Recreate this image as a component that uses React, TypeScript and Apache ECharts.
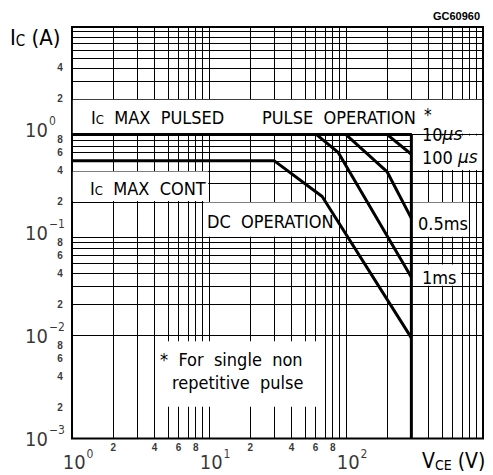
import React, { useEffect, useRef } from 'react';
import * as echarts from 'echarts';

const FONT = "'Liberation Sans Narrow','Arial Narrow','DejaVu Sans Condensed','Liberation Sans',sans-serif";
const SMALL_FONT = "'Liberation Sans',Arial,sans-serif";

// grid lines (thin)
const xGridValues = [2, 3, 4, 5, 6, 7, 8, 9, 10, 20, 30, 40, 50, 60, 70, 80, 90, 100, 200, 300, 400, 500, 600, 700, 800, 900];
const yGridValues = [9, 8, 7, 6, 5, 4, 3, 2, 0.9, 0.8, 0.7, 0.6, 0.5, 0.4, 0.3, 0.2, 0.09, 0.08, 0.07, 0.06, 0.05, 0.04, 0.03, 0.02, 0.009, 0.008, 0.007, 0.006, 0.005, 0.004, 0.003, 0.002];

// tick labels
const xMajorTicks = [1, 10, 100];
const xMajorExponents = ['0', '1', '2'];
const xMinorTicks = [2, 4, 6, 8, 20, 40, 60, 80];
const xMinorLabels = ['2', '4', '6', '8', '2', '4', '6', '8'];
const yMajorTicks = [1, 0.1, 0.01, 0.001];
const yMajorExponents = ['0', '\u22121', '\u22122', '\u22123'];
const yMinorTicks = [4, 2, 0.8, 0.6, 0.4, 0.2, 0.08, 0.06, 0.04, 0.02, 0.008, 0.006, 0.004, 0.002];
const yMinorLabels = ['4', '2', '8', '6', '4', '2', '8', '6', '4', '2', '8', '6', '4', '2'];

// safe operating area limits [VCE (V), IC (A)]
const pulse10usLimit = [[1, 0.9], [300, 0.9], [300, 0.001]];
const pulse100us = [[200, 0.9], [300, 0.58]];
const pulse05ms = [[100, 0.9], [200, 0.39], [300, 0.138]];
const pulse1ms = [[61, 0.9], [88, 0.6], [300, 0.037]];
const dcOperation = [[1, 0.5], [30, 0.5], [67, 0.225], [300, 0.0095]];

// white label areas [xFrom, xTo, yFrom, yTo]
const labelAreas = [
  [1, 1000, 0.9, 2],
  [300, 1000, 0.4, 0.9],
  [300, 800, 0.09, 0.2],
  [300, 700, 0.03, 0.05],
  [1, 10, 0.2, 0.4],
  [9, 90, 0.09, 0.2],
  [4, 70, 0.002, 0.009],
];

const FX = 1.0135;
const FY = 1.018;

export default function App() {
  const ref = useRef<HTMLDivElement>(null);
  useEffect(() => {
    if (!ref.current) return;
    const chart = echarts.init(ref.current, undefined, { renderer: 'svg' });
    const curve = (data: number[][]) => ({
      type: 'line',
      data,
      symbol: 'none',
      silent: true,
      z: 5,
      lineStyle: { color: '#000', width: 3 },
    });
    const labelBase = {
      show: true,
      position: 'inside',
      color: '#000',
      textBorderWidth: 0,
    };
    const pointBase = {
      type: 'scatter',
      symbol: 'circle',
      symbolSize: 1,
      itemStyle: { color: 'rgba(0,0,0,0)' },
      clip: false,
      silent: true,
      z: 10,
    };
    const txt = (x: number, y: number, text: string, fontSize: number, extra: any = {}) => ({
      type: 'text',
      x,
      y,
      z: 100,
      style: {
        text,
        fill: '#000',
        fontSize,
        fontFamily: FONT,
        align: 'left',
        verticalAlign: 'middle',
        textAlign: 'left',
        textVerticalAlign: 'middle',
        ...extra,
      },
    });
    const subRich = (main: number, sub: number) => ({
      a: { fontSize: main, fontFamily: FONT, lineHeight: main, fill: '#000', color: '#000' },
      s: { fontSize: sub, fontFamily: FONT, lineHeight: sub + 1, verticalAlign: 'bottom', fill: '#000', color: '#000' },
      b: { fontSize: main, fontFamily: FONT, lineHeight: main, fill: '#000', color: '#000' },
    });
    const muRich = {
      a: { fontSize: 18, fontFamily: FONT, lineHeight: 18, color: '#000', fill: '#000' },
      m: { fontSize: 17, fontFamily: "'DejaVu Sans',sans-serif", fontStyle: 'italic', lineHeight: 18, color: '#000', fill: '#000' },
    };

    const option: any = {
      animation: false,
      backgroundColor: '#fff',
      grid: { left: 72, right: 10, top: 27, bottom: 36.5, show: true, borderColor: '#000', borderWidth: 2 },
      xAxis: {
        type: 'log', logBase: 10, min: 1, max: 1000,
        axisLine: { show: false }, axisTick: { show: false }, axisLabel: { show: false }, splitLine: { show: false },
      },
      yAxis: {
        type: 'log', logBase: 10, min: 0.001, max: 10,
        axisLine: { show: false }, axisTick: { show: false }, axisLabel: { show: false }, splitLine: { show: false },
      },
      series: [
        {
          type: 'line',
          data: [[1, 0.001]],
          symbol: 'none',
          lineStyle: { width: 0 },
          silent: true,
          z: 1,
          markLine: {
            z: 1,
            silent: true,
            symbol: ['none', 'none'],
            label: { show: false },
            emphasis: { disabled: true },
            lineStyle: { color: '#000', width: 1, type: 'solid' },
            data: [
              ...xGridValues.map((v) => ({ xAxis: v })),
              ...yGridValues.map((v) => ({ yAxis: v })),
            ],
          },
        },
        {
          type: 'line',
          data: [[1, 0.001]],
          symbol: 'none',
          lineStyle: { width: 0 },
          silent: true,
          z: 2,
          markArea: {
            z: 3,
            silent: true,
            label: { show: false },
            emphasis: { disabled: true },
            itemStyle: { color: '#fff', opacity: 1, borderWidth: 0 },
            data: labelAreas.map(([x1, x2, y1, y2]) => [
              { xAxis: x1 * FX, yAxis: y1 * FY },
              { xAxis: x2 / FX, yAxis: y2 / FY },
            ]),
          },
        },
        curve(pulse10usLimit),
        curve(pulse100us),
        curve(pulse05ms),
        curve(pulse1ms),
        curve(dcOperation),
        {
          ...pointBase,
          data: xMinorTicks.map((v, i) => ({ value: [v, 0.001], name: xMinorLabels[i] })),
          label: {
            ...labelBase,
            offset: [0, 8.5],
            fontSize: 10,
            fontWeight: 'bold',
            fontFamily: SMALL_FONT,
            formatter: (p: any) => p.name,
          },
        },
        {
          ...pointBase,
          data: yMinorTicks.map((v, i) => ({ value: [1, v], name: yMinorLabels[i] })),
          label: {
            ...labelBase,
            offset: [-12, 0],
            fontSize: 10,
            fontWeight: 'bold',
            fontFamily: SMALL_FONT,
            formatter: (p: any) => p.name,
          },
        },
        {
          ...pointBase,
          data: xMajorTicks.map((v, i) => ({ value: [v, 0.001], name: xMajorExponents[i] })),
          label: {
            ...labelBase,
            align: 'left',
            offset: [-9.3, 23],
            formatter: (p: any) => '{m|10}{s|' + p.name + '}',
            rich: {
              m: { fontSize: 20, fontFamily: FONT, lineHeight: 28, color: '#000' },
              s: { fontSize: 12, fontFamily: FONT, lineHeight: 12, verticalAlign: 'top', color: '#000', padding: [0, 0, 0, 1] },
            },
          },
        },
        {
          ...pointBase,
          data: yMajorTicks.map((v, i) => ({ value: [1, v], name: yMajorExponents[i] })),
          label: {
            ...labelBase,
            align: 'left',
            offset: [-47, 0],
            formatter: (p: any) => '{m|10}{s|' + p.name + '}',
            rich: {
              m: { fontSize: 20, fontFamily: FONT, lineHeight: 30, color: '#000' },
              s: { fontSize: 12, fontFamily: FONT, lineHeight: 12, verticalAlign: 'top', color: '#000', padding: [0, 0, 0, 1] },
            },
          },
        },
      ],
      graphic: [
        txt(10, 37, '{a|I}{s|C} {b|(A)}', 22, { rich: subRich(22, 15) }),
        txt(480, 16, 'GC60960', 11, { fontFamily: SMALL_FONT, fontWeight: 'bold', align: 'right', textAlign: 'right' }),
        txt(91, 117, '{a|I}{s|C}{b|  MAX  PULSED}', 18, { rich: subRich(18, 13) }),
        txt(262, 117, 'PULSE  OPERATION', 18),
        txt(424, 115, '*', 17, { lineHeight: 17 }),
        txt(422, 134, '{a|10}{m|\u03bcs}', 18, { rich: muRich }),
        txt(422, 157, '{a|100 }{m|\u03bcs}', 18, { rich: muRich }),
        txt(90, 188, '{a|I}{s|C}{b|  MAX  CONT}', 18, { rich: subRich(18, 13) }),
        txt(207, 221, 'DC  OPERATION', 18),
        txt(418, 223, '0.5ms', 18),
        txt(422, 277, '1ms', 18),
        txt(160, 359, '*  For  single  non', 18),
        txt(172, 382, 'repetitive  pulse', 18),
        txt(422, 461, '{a|V}{s|CE}{b| (V)}', 21, { rich: subRich(21, 14) }),
      ],
    };
    chart.setOption(option);
    return () => chart.dispose();
  }, []);
  return (
    <div
      ref={ref}
      style={{ position: 'fixed', left: 0, top: 0, width: 493, height: 475, background: '#fff' }}
    />
  );
}
